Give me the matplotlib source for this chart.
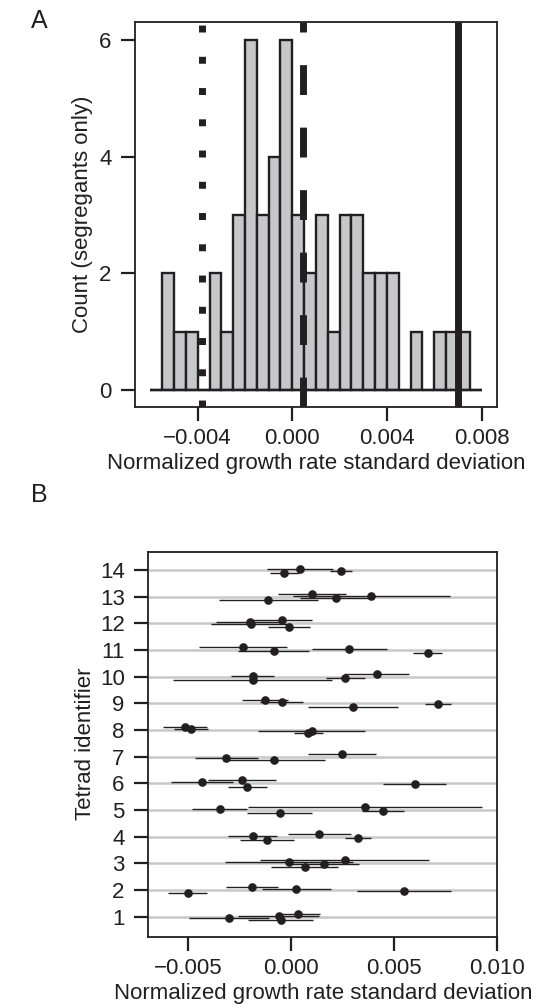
import numpy as np
import matplotlib
matplotlib.use("Agg")
import matplotlib.pyplot as plt

plt.rcParams['font.family'] = ['Liberation Sans', 'DejaVu Sans']
plt.rcParams['lines.scale_dashes'] = False
plt.rcParams['axes.unicode_minus'] = True

# ---------------- Panel A data ----------------
bin_edges = np.linspace(-0.006, 0.008, 29)          # 0.0005 wide bins
hist_counts = [0, 2, 1, 1, 0, 2, 1, 3, 6, 3, 4, 6, 3, 2,
               3, 1, 3, 3, 2, 2, 2, 0, 1, 0, 1, 1, 1, 0]
ref_dotted = -0.0038
ref_dashed = 0.00047
ref_solid = 0.0070
a_xticks = [-0.004, 0.000, 0.004, 0.008]
a_xticklabels = ["\u22120.004", "0.000", "0.004", "0.008"]
a_yticks = [0, 2, 4, 6]

# ---------------- Panel B data ----------------
tetrads = list(range(1, 15))
# four segregants per tetrad, listed from top row-offset to bottom row-offset
seg_means = [
    [0.00034, -0.00060, -0.00300, -0.00050],   # 1
    [-0.00189, 0.00027, 0.00549, -0.00500],    # 2
    [0.00260, -0.00010, 0.00158, 0.00066],     # 3
    [0.00137, -0.00186, 0.00323, -0.00116],    # 4
    [0.00358, -0.00345, 0.00447, -0.00055],    # 5
    [-0.00237, -0.00431, 0.00600, -0.00211],   # 6
    [0.00247, np.nan, -0.00313, -0.00082],     # 7
    [-0.00513, -0.00484, 0.00100, 0.00084],    # 8
    [-0.00126, -0.00045, 0.00715, 0.00303],    # 9
    [0.00416, -0.00186, 0.00263, -0.00186],    # 10
    [-0.00232, 0.00282, -0.00084, 0.00662],    # 11
    [-0.00042, -0.00200, -0.00194, -0.00010],  # 12
    [0.00103, 0.00390, 0.00219, -0.00110],     # 13
    [np.nan, 0.00044, 0.00242, -0.00032],      # 14
]
seg_errs = [
    [0.00106, 0.00194, 0.00194, 0.00158],
    [0.00127, 0.00165, 0.00227, 0.00094],
    [0.00411, 0.00310, 0.00171, 0.00161],
    [0.00153, 0.00121, 0.00063, 0.00129],
    [0.00568, 0.00134, 0.00102, 0.00158],
    [0.00165, 0.00148, 0.00153, 0.00095],
    [0.00166, np.nan, 0.00153, 0.00245],
    [0.00105, 0.00081, 0.00260, 0.00071],
    [0.00110, 0.00105, 0.00063, 0.00218],
    [0.00157, 0.00106, 0.00094, 0.00387],
    [0.00215, 0.00182, 0.00173, 0.00071],
    [0.00142, 0.00161, 0.00194, 0.00102],
    [0.00166, 0.00381, 0.00173, 0.00239],
    [np.nan, 0.00161, 0.00052, 0.00071],
]
b_xticks = [-0.005, 0.000, 0.005, 0.010]
b_xticklabels = ["\u22120.005", "0.000", "0.005", "0.010"]

# ---------------- styling ----------------
W, H = 547, 1008
ink = '#231f20'
bar_fill = '#c6c7c9'
grid_gray = '#c8c8c8'
fs = 16

fig = plt.figure(figsize=(W / 100, H / 100), dpi=100)

def px_axes(l, t, r, b):
    return [l / W, 1 - b / H, (r - l) / W, (b - t) / H]

def style_axes(ax):
    for s in ax.spines.values():
        s.set_linewidth(1.3)
        s.set_color(ink)
    ax.tick_params(direction='out', length=10, width=1.6, color=ink,
                   labelsize=fs, labelcolor=ink)
    ax.tick_params(axis='x', pad=5.5)
    ax.tick_params(axis='y', pad=7)

# ---------- Panel A ----------
axA = fig.add_axes(px_axes(135, 21.7, 496.7, 406.7))
widths = np.diff(bin_edges)
axA.bar(bin_edges[:-1], hist_counts, width=widths, align='edge',
        color=bar_fill, edgecolor=ink, linewidth=1.7, zorder=2)
axA.hlines(0, bin_edges[0], bin_edges[-1], color=ink, linewidth=1.7, zorder=3)
axA.axvline(ref_dotted, color=ink, linewidth=5, dashes=(5, 17.5),
            dash_capstyle='butt', zorder=4)
axA.axvline(ref_dashed, color=ink, linewidth=5, dashes=(21.5, 23.5),
            dash_capstyle='butt', zorder=4)
axA.axvline(ref_solid, color=ink, linewidth=5, solid_capstyle='butt', zorder=4)
axA.set_xlim(-0.00665, 0.00864)
axA.set_ylim(-0.286, 6.317)
axA.set_xticks(a_xticks)
axA.set_xticklabels(a_xticklabels)
axA.set_yticks(a_yticks)
style_axes(axA)
axA.set_xlabel("Normalized growth rate standard deviation", fontsize=fs,
               color=ink, labelpad=3)
axA.set_ylabel("Count (segregants only)", fontsize=fs, color=ink, labelpad=4.5)
fig.text(31 / W, 1 - 21 / H, "A", fontsize=18, ha='left', va='center', color=ink)

# ---------- Panel B ----------
axB = fig.add_axes(px_axes(148.3, 551.7, 497.3, 936.7))
for t in tetrads:
    axB.axhline(t, color=grid_gray, linewidth=1.8, zorder=1)
offsets = [0.12, 0.04, -0.04, -0.12]
means = np.array(seg_means)
errs = np.array(seg_errs)
for j, off in enumerate(offsets):
    y = np.array(tetrads) + off
    axB.errorbar(means[:, j], y, xerr=errs[:, j], fmt='o', ms=5.2,
                 color=ink, ecolor=ink, elinewidth=1.0, capsize=0, zorder=3)
axB.set_xlim(-0.00691, 0.0100)
axB.set_ylim(0.25, 14.69)
axB.set_xticks(b_xticks)
axB.set_xticklabels(b_xticklabels)
axB.set_yticks(tetrads)
style_axes(axB)
axB.set_xlabel("Normalized growth rate standard deviation", fontsize=fs,
               color=ink, labelpad=3)
axB.set_ylabel("Tetrad identifier", fontsize=fs, color=ink, labelpad=2.5)
fig.text(31 / W, 1 - 495 / H, "B", fontsize=18, ha='left', va='center', color=ink)

fig.savefig("out.png", dpi=100)
